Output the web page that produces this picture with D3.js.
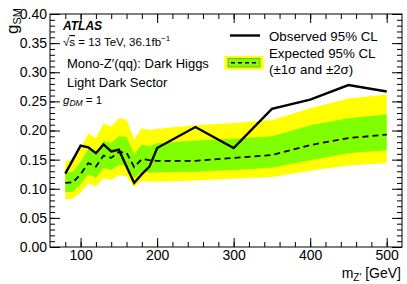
<!DOCTYPE html>
<html>
<head>
<meta charset="utf-8">
<script src="https://cdn.jsdelivr.net/npm/d3@7"></script>
<style>
  body { margin: 0; background: #fff; }
  text { font-family: "Liberation Sans", Arial, sans-serif; fill: #000; }
</style>
</head>
<body>
<div id="d3-container"></div>
<script>
// Dane
const masses = [80, 90, 100, 110, 120, 130, 140, 150, 160, 170, 180, 190, 200, 250, 300, 350, 400, 450, 500];
const observed = [0.126, 0.150, 0.174, 0.171, 0.161, 0.176, 0.164, 0.167, 0.138, 0.110, 0.125, 0.138, 0.170, 0.206, 0.170, 0.237, 0.253, 0.278, 0.267];
const expected = [0.110, 0.111, 0.125, 0.144, 0.138, 0.157, 0.153, 0.163, 0.162, 0.137, 0.151, 0.149, 0.148, 0.148, 0.153, 0.158, 0.175, 0.187, 0.193];
const band2Low = [0.082, 0.083, 0.094, 0.109, 0.104, 0.118, 0.115, 0.123, 0.122, 0.103, 0.114, 0.112, 0.112, 0.114, 0.117, 0.120, 0.131, 0.140, 0.144];
const band1Low = [0.094, 0.095, 0.108, 0.125, 0.119, 0.135, 0.132, 0.141, 0.140, 0.118, 0.130, 0.128, 0.128, 0.129, 0.132, 0.136, 0.149, 0.161, 0.166];
const band1High = [0.128, 0.129, 0.146, 0.168, 0.161, 0.183, 0.178, 0.190, 0.189, 0.160, 0.176, 0.173, 0.178, 0.183, 0.186, 0.190, 0.209, 0.221, 0.228];
const band2High = [0.147, 0.149, 0.169, 0.195, 0.187, 0.212, 0.207, 0.221, 0.219, 0.185, 0.204, 0.201, 0.203, 0.209, 0.213, 0.218, 0.238, 0.255, 0.262];

const xTicks = [100, 200, 300, 400, 500];
const yTicks = [0, 0.05, 0.10, 0.15, 0.20, 0.25, 0.30, 0.35, 0.40];

// Wymiary
const width = 407;
const height = 284;
const margin = { top: 14, bottom: 37, left: 50, right: 5 };
const font = '"Liberation Sans", Arial, sans-serif';

const svg = d3.select('#d3-container')
  .append('svg')
  .attr('width', width)
  .attr('height', height);

// Skale
const x = d3.scaleLinear()
  .domain([60, 520])
  .range([margin.left, width - margin.right]);

const y = d3.scaleLinear()
  .domain([0, 0.4])
  .range([height - margin.bottom, margin.top]);

const rows = masses.map((m, i) => ({
  m: m, obs: observed[i], exp: expected[i],
  y2l: band2Low[i], y1l: band1Low[i], y1h: band1High[i], y2h: band2High[i]
}));

// Pasma +-2 sigma i +-1 sigma
svg.append('path')
  .datum(rows)
  .attr('fill', '#ffff00')
  .attr('d', d3.area().x(d => x(d.m)).y0(d => y(d.y2l)).y1(d => y(d.y2h)));

svg.append('path')
  .datum(rows)
  .attr('fill', '#80ff00')
  .attr('d', d3.area().x(d => x(d.m)).y0(d => y(d.y1l)).y1(d => y(d.y1h)));

// Linia oczekiwana (przerywana)
svg.append('path')
  .datum(rows)
  .attr('fill', 'none')
  .attr('stroke', '#000')
  .attr('stroke-width', 1.8)
  .attr('stroke-dasharray', '6,4')
  .attr('d', d3.line().x(d => x(d.m)).y(d => y(d.exp)));

// Linia obserwowana
svg.append('path')
  .datum(rows)
  .attr('fill', 'none')
  .attr('stroke', '#000')
  .attr('stroke-width', 2.4)
  .attr('d', d3.line().x(d => x(d.m)).y(d => y(d.obs)));

// Osie (ticki do srodka, jak w ROOT)
const x0 = margin.left, x1 = width - margin.right;
const y0 = height - margin.bottom, y1 = margin.top;

svg.append('g')
  .attr('transform', `translate(0,${y0})`)
  .call(d3.axisBottom(x).tickValues(d3.range(80, 520, 20)).tickSize(-5).tickFormat(''))
  .call(g => g.select('.domain').remove());
svg.append('g')
  .attr('transform', `translate(0,${y0})`)
  .call(d3.axisBottom(x).tickValues(xTicks).tickSize(-9).tickPadding(3).tickFormat(d3.format('d')))
  .call(g => g.select('.domain').remove())
  .call(g => g.selectAll('text').attr('font-size', 14).attr('font-family', font));

svg.append('g')
  .attr('transform', `translate(0,${y1})`)
  .call(d3.axisTop(x).tickValues(d3.range(80, 520, 20)).tickSize(-5).tickFormat(''))
  .call(g => g.select('.domain').remove());
svg.append('g')
  .attr('transform', `translate(0,${y1})`)
  .call(d3.axisTop(x).tickValues(xTicks).tickSize(-9).tickFormat(''))
  .call(g => g.select('.domain').remove());

const yMinor = d3.range(0, 0.401, 0.01);
svg.append('g')
  .attr('transform', `translate(${x0},0)`)
  .call(d3.axisLeft(y).tickValues(yMinor).tickSize(-5).tickFormat(''))
  .call(g => g.select('.domain').remove());
svg.append('g')
  .attr('transform', `translate(${x0},0)`)
  .call(d3.axisLeft(y).tickValues(yTicks).tickSize(-10).tickPadding(3).tickFormat(d3.format('.2f')))
  .call(g => g.select('.domain').remove())
  .call(g => g.selectAll('text').attr('font-size', 14).attr('font-family', font));

svg.append('g')
  .attr('transform', `translate(${x1},0)`)
  .call(d3.axisRight(y).tickValues(yMinor).tickSize(-5).tickFormat(''))
  .call(g => g.select('.domain').remove());
svg.append('g')
  .attr('transform', `translate(${x1},0)`)
  .call(d3.axisRight(y).tickValues(yTicks).tickSize(-10).tickFormat(''))
  .call(g => g.select('.domain').remove());

svg.selectAll('.tick line').attr('stroke', '#000').attr('stroke-width', 1);

// Ramka
svg.append('rect')
  .attr('x', x0).attr('y', y1)
  .attr('width', x1 - x0).attr('height', y0 - y1)
  .attr('fill', 'none').attr('stroke', '#000').attr('stroke-width', 1);

// Opisy osi
const yLab = svg.append('text')
  .attr('transform', `translate(18,34) rotate(-90)`)
  .attr('text-anchor', 'start')
  .attr('font-size', 17);
yLab.append('tspan').text('g');
yLab.append('tspan').attr('font-size', 11).attr('dy', 3).text('SM');

const xLab = svg.append('text')
  .attr('x', 401).attr('y', 278)
  .attr('text-anchor', 'end')
  .attr('font-size', 14);
xLab.append('tspan').text('m');
xLab.append('tspan').attr('font-size', 10).attr('dy', 3).text('Z\u2032');
xLab.append('tspan').attr('dy', -3).text(' [GeV]');

// Napisy ATLAS
svg.append('text')
  .attr('x', 63).attr('y', 29.5)
  .attr('font-size', 12).attr('font-weight', 'bold').attr('font-style', 'italic')
  .text('ATLAS');

const sq = svg.append('text').attr('x', 63).attr('y', 46).attr('font-size', 11.5);
sq.append('tspan').text('\u221A');
sq.append('tspan').style('text-decoration', 'overline').text('s');
sq.append('tspan').text(' = 13 TeV, 36.1fb');
sq.append('tspan').attr('font-size', 8).attr('dy', -5).text('\u22121');

svg.append('text').attr('x', 67).attr('y', 68).attr('font-size', 13)
  .text('Mono-Z\u2032(qq): Dark Higgs');
svg.append('text').attr('x', 67).attr('y', 86.5).attr('font-size', 13)
  .text('Light Dark Sector');

const gdm = svg.append('text').attr('x', 63).attr('y', 104).attr('font-size', 11.5);
gdm.append('tspan').attr('font-style', 'italic').text('g');
gdm.append('tspan').attr('font-style', 'italic').attr('font-size', 8.5).attr('dy', 2).text('DM');
gdm.append('tspan').attr('dy', -2).text(' = 1');

// Legenda
svg.append('line')
  .attr('x1', 230).attr('x2', 260).attr('y1', 35.5).attr('y2', 35.5)
  .attr('stroke', '#000').attr('stroke-width', 2.4);
svg.append('text').attr('x', 269).attr('y', 40.5).attr('font-size', 13.3).text('Observed 95% CL');

svg.append('rect').attr('x', 224.5).attr('y', 56).attr('width', 39).attr('height', 13.5).attr('fill', '#ffff00');
svg.append('rect').attr('x', 228).attr('y', 58.5).attr('width', 32).attr('height', 8.5)
  .attr('fill', '#80ff00').attr('stroke', '#4a8a30').attr('stroke-width', 0.6);
svg.append('line')
  .attr('x1', 231).attr('x2', 258).attr('y1', 62.7).attr('y2', 62.7)
  .attr('stroke', '#000').attr('stroke-width', 1.6).attr('stroke-dasharray', '4,3');
svg.append('text').attr('x', 269).attr('y', 58).attr('font-size', 13.3).text('Expected 95% CL');
svg.append('text').attr('x', 269).attr('y', 74).attr('font-size', 13.3).text('(\u00B11\u03C3 and \u00B12\u03C3)');
</script>
</body>
</html>
